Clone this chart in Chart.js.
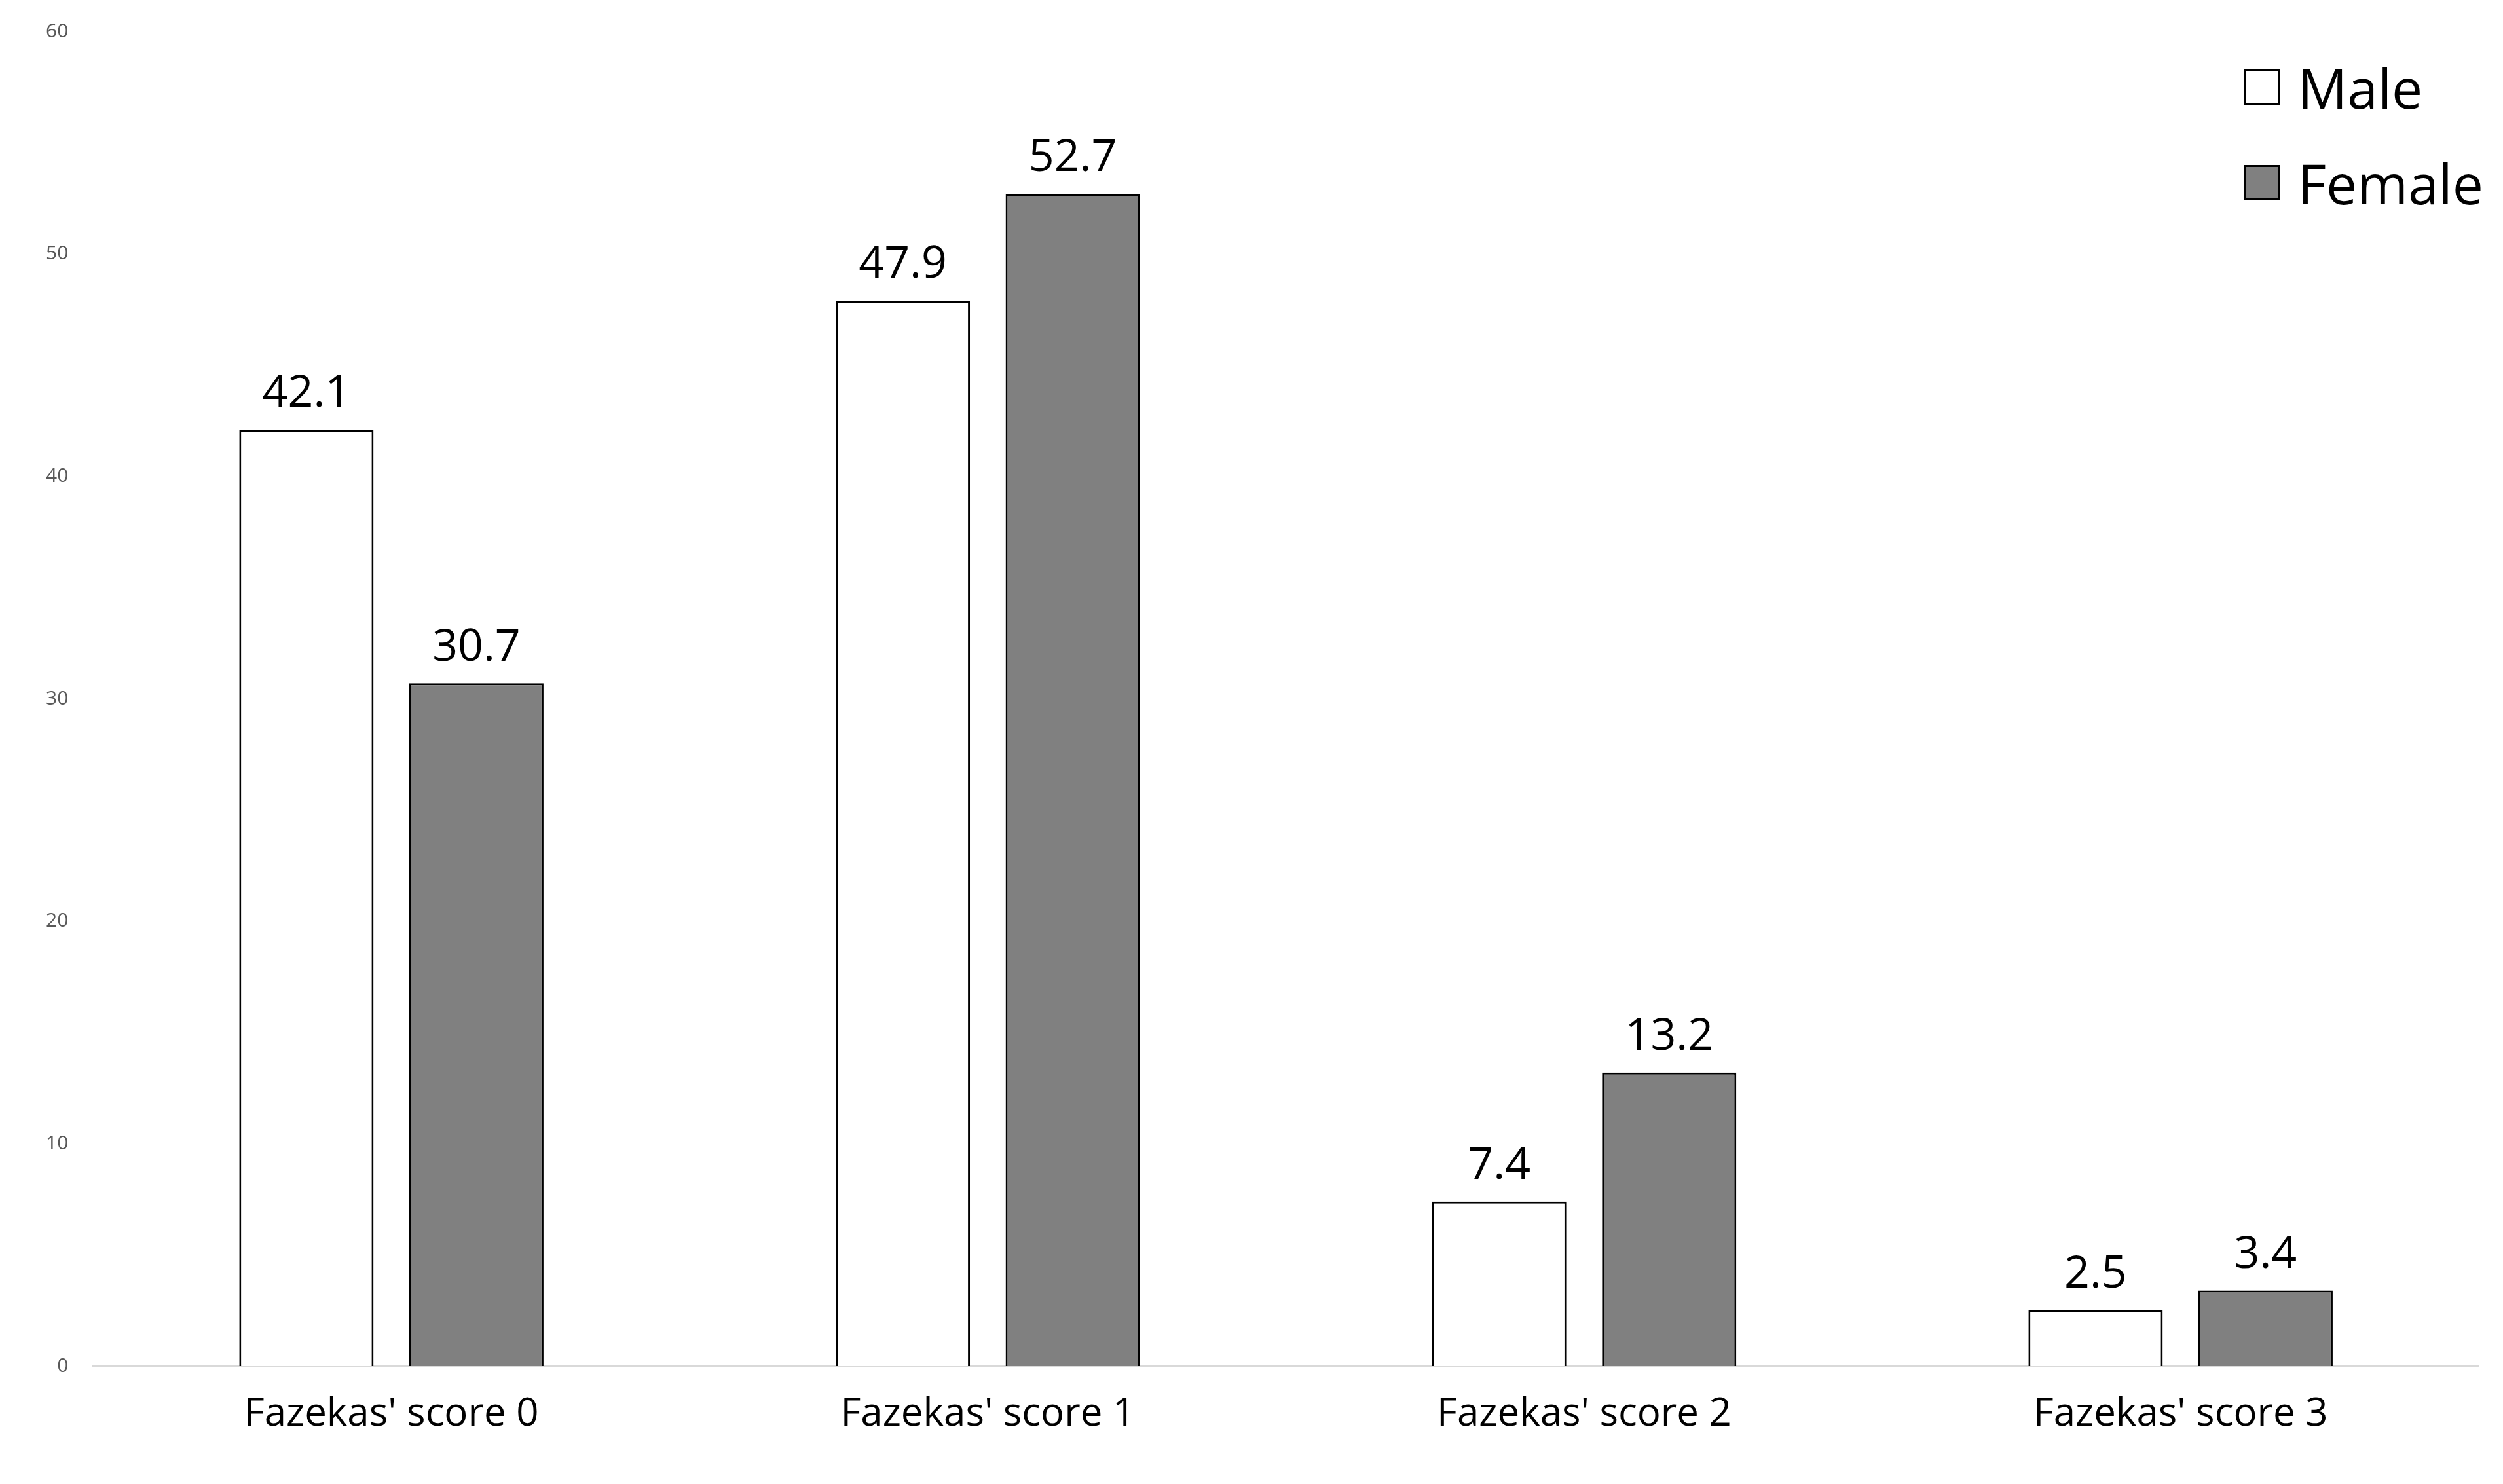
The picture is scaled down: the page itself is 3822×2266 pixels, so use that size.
<!DOCTYPE html>
<html>
<head>
<meta charset="utf-8">
<script src="https://cdn.jsdelivr.net/npm/chart.js@4"></script>
<style>
  body { margin: 0; background: #fff; }
  #wrap { position: relative; width: 3822px; height: 2266px; }
  #legend { position: absolute; right: 30px; top: 60px; font-family: "Open Sans", sans-serif; font-size: 84px; color: #000; }
  .item { display: flex; align-items: center; height: 146px; }
  .box { width: 54px; height: 54px; border: 3px solid #000; margin-right: 28px; box-sizing: border-box; }
</style>
</head>
<body>
<div id="wrap">
  <canvas id="chart" width="3822" height="2266"></canvas>
  <div id="legend">
    <div class="item"><span class="box" style="background:#fff"></span>Male</div>
    <div class="item"><span class="box" style="background:#808080"></span>Female</div>
  </div>
</div>
<script>
const categories = ["Fazekas' score 0", "Fazekas' score 1", "Fazekas' score 2", "Fazekas' score 3"];
const maleValues = [42.1, 47.9, 7.4, 2.5];
const femaleValues = [30.7, 52.7, 13.2, 3.4];

// draws the value above each bar
const valueLabels = {
  id: 'valueLabels',
  afterDatasetsDraw(chart) {
    let ctx = chart.ctx;
    ctx.save();
    ctx.font = '68px "Open Sans", sans-serif';
    ctx.fillStyle = '#000';
    ctx.textAlign = 'center';
    ctx.textBaseline = 'bottom';
    chart.data.datasets.forEach((ds, i) => {
      chart.getDatasetMeta(i).data.forEach((bar, j) => {
        ctx.fillText(ds.data[j].toFixed(1), bar.x, bar.y - 20);
      });
    });
    ctx.restore();
  }
};

let ctx = document.getElementById('chart').getContext('2d');
new Chart(ctx, {
  type: 'bar',
  data: {
    labels: categories,
    datasets: [
      { label: 'Male', data: maleValues, backgroundColor: '#ffffff', borderColor: '#000', borderWidth: 3 },
      { label: 'Female', data: femaleValues, backgroundColor: '#808080', borderColor: '#000', borderWidth: 3 }
    ]
  },
  options: {
    responsive: false,
    animation: false,
    categoryPercentage: 0.57,
    barPercentage: 0.79,
    layout: { padding: { left: 40, top: 40, right: 37, bottom: 40 } },
    plugins: { legend: { display: false }, tooltip: { enabled: false } },
    scales: {
      x: {
        grid: { display: false },
        border: { color: '#d9d9d9', width: 3 },
        ticks: { color: '#000', font: { family: 'Open Sans', size: 60 }, padding: 30 }
      },
      y: {
        min: 0, max: 60,
        grid: { display: false },
        border: { display: false },
        ticks: { stepSize: 10, color: '#595959', font: { family: 'Open Sans', size: 30 }, padding: 30 }
      }
    }
  },
  plugins: [valueLabels]
});
</script>
</body>
</html>
